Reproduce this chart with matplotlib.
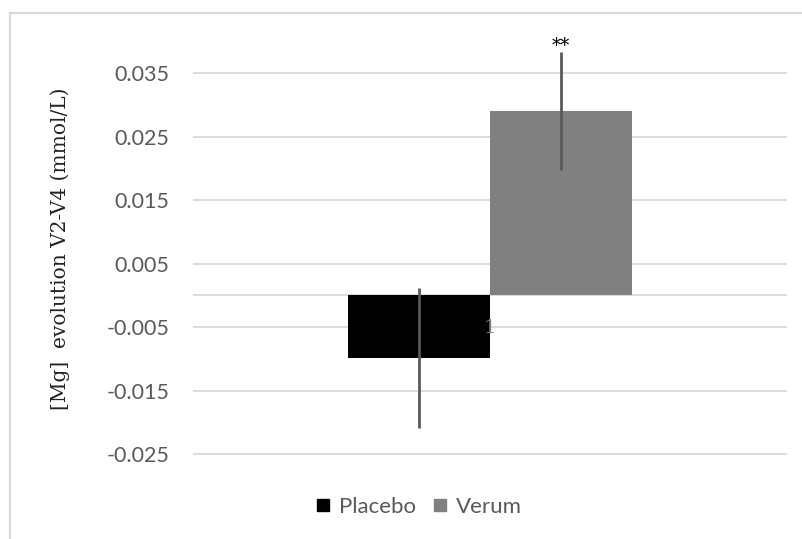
import matplotlib.pyplot as plt
from matplotlib.lines import Line2D

# Data
groups = ['Placebo', 'Verum']
means = [-0.0099, 0.029]
errors = [0.011, 0.0093]
colors = ['#000000', '#808080']
yticks = [-0.025, -0.015, -0.005, 0.005, 0.015, 0.025, 0.035]
ytick_labels = ['-0.025', '-0.015', '-0.005', '0.005', '0.015', '0.025', '0.035']

W, H = 802, 539
fig = plt.figure(figsize=(W / 100, H / 100), dpi=100)

# plot area in pixel terms: x 193..787, y 0.035 at 73, -0.025 at 454
px_per_unit = (454 - 73) / 0.06
y_top, y_bot = 0.041, -0.027
top_px = 73 - (y_top - 0.035) * px_per_unit
bot_px = 454 + (-0.025 - y_bot) * px_per_unit
ax = fig.add_axes([193 / W, 1 - bot_px / H, (787 - 193) / W, (bot_px - top_px) / H])
ax.set_ylim(y_bot, y_top)
ax.set_xlim(-0.5, 0.5)

# bars side by side in one category
width = 0.239
offsets = [-width / 2, width / 2]
for g, m, e, c, o in zip(groups, means, errors, colors, offsets):
    ax.bar(o, m, width=width, color=c, label=g, zorder=2)
    ax.errorbar(o, m, yerr=e, fmt='none', ecolor='#595959', elinewidth=2,
                capsize=0, zorder=3, clip_on=False)

ax.text(offsets[1], means[1] + errors[1] - 0.0004, '**', ha='center', va='bottom',
        fontsize=13, family='DejaVu Serif')

# gridlines and zero axis
for t in yticks:
    ax.axhline(t, color='#d9d9d9', lw=1.3, zorder=1)
ax.axhline(0, color='#d9d9d9', lw=1.3, zorder=1)

ax.set_yticks(yticks)
ax.set_yticklabels(ytick_labels, fontsize=15.5, color='#595959', family='Lato')
ax.tick_params(axis='y', length=0, pad=17)
ax.set_xticks([])
for s in ax.spines.values():
    s.set_visible(False)

# category label
ax.text(0.0, -0.0052, '1', ha='center', va='center', fontsize=14,
        color='#7f7f7f', family='DejaVu Serif')

fig.text(60 / W, 1 - 249 / H, '[Mg]  evolution V2-V4 (mmol/L)', rotation=90,
         ha='center', va='center', fontsize=14.5, family='DejaVu Serif', color='#222222')

# legend
handles = [Line2D([], [], marker='s', ls='none', color=c, markersize=9) for c in colors]
fig.legend(handles, groups, loc='center', bbox_to_anchor=(418 / W, 1 - 507 / H),
           ncol=2, frameon=False, handlelength=0.8, handletextpad=0.3, columnspacing=0.7,
           prop={'family': 'Lato', 'size': 16}, labelcolor='#595959')

# chart border
fig.add_artist(Line2D([10 / W, 10 / W], [0, 1 - 13 / H], color='#d9d9d9', lw=1.5))
fig.add_artist(Line2D([10 / W, 1], [1 - 13 / H, 1 - 13 / H], color='#d9d9d9', lw=1.5))

fig.savefig('out.png', dpi=100)
